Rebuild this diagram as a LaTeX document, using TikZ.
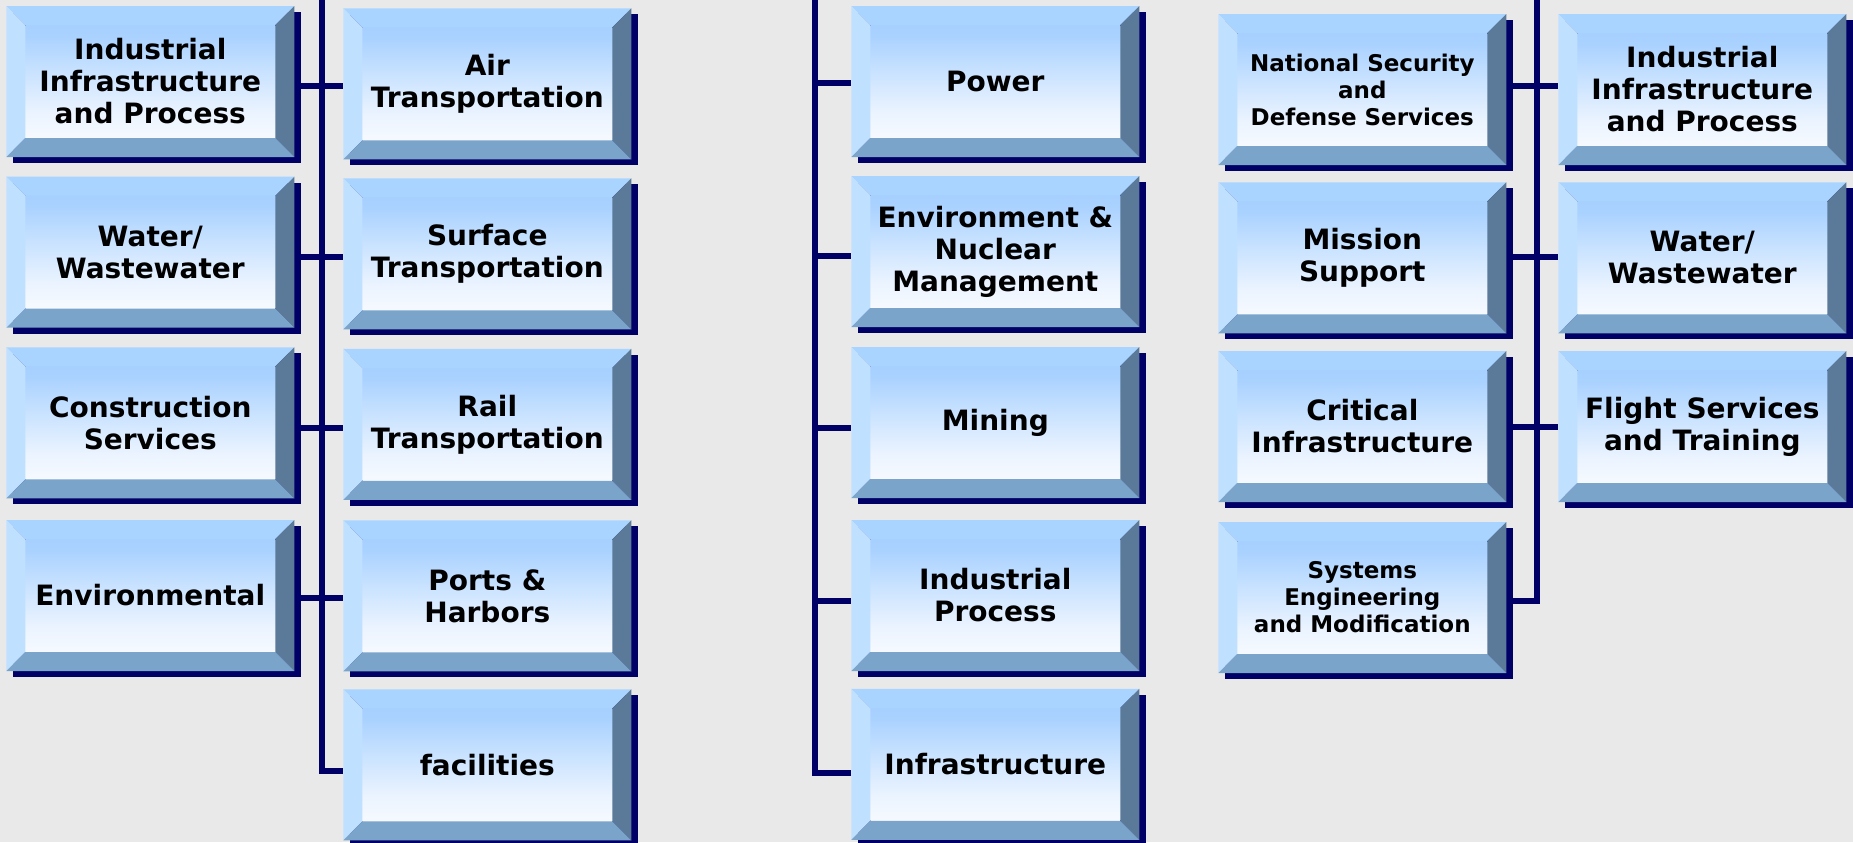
\documentclass[tikz,border=0pt]{standalone}
\usepackage{fontspec}
\setmainfont{DejaVu Sans}
\usetikzlibrary{shadows}
\pgfdeclarelayer{bglayer}
\pgfdeclarelayer{lines}
\pgfsetlayers{bglayer,lines,main}
\definecolor{bgc}{HTML}{E9E9E9}
\definecolor{navy}{HTML}{000066}
\definecolor{bevtop}{HTML}{A8D4FF}
\definecolor{bevleft}{HTML}{C0E0FF}
\definecolor{bevright}{HTML}{5B7A99}
\definecolor{bevbot}{HTML}{7BA4CB}
\definecolor{faceA}{HTML}{A0CCFF}
\definecolor{faceB}{HTML}{AAD2FF}
\definecolor{faceC}{HTML}{CCE4FF}
\definecolor{faceD}{HTML}{EAF3FF}
\definecolor{faceE}{HTML}{F8FBFF}
\pgfdeclareverticalshading{faceshade}{100bp}{color(0bp)=(faceE); color(25bp)=(faceE); color(30bp)=(faceE); color(40bp)=(faceD); color(52bp)=(faceC); color(65bp)=(faceB); color(75bp)=(faceA); color(100bp)=(faceA)}
\tikzset{
  bx/.style={anchor=north west, minimum width=144pt, minimum height=75.5pt,
    inner sep=0pt, outer sep=0pt, align=center,
    font=\bfseries\fontsize{14}{16}\selectfont,
    general shadow={shadow xshift=3.5pt, shadow yshift=-3pt, fill=navy},
    path picture={
      \def\bevw{9.5pt}
      \shade[shading=faceshade]
        ([xshift=\bevw,yshift=-\bevw]path picture bounding box.north west) rectangle
        ([xshift=-\bevw,yshift=\bevw]path picture bounding box.south east);
      \fill[bevtop] (path picture bounding box.north west) -- (path picture bounding box.north east)
        -- ([xshift=-\bevw,yshift=-\bevw]path picture bounding box.north east)
        -- ([xshift=\bevw,yshift=-\bevw]path picture bounding box.north west) -- cycle;
      \fill[bevleft] (path picture bounding box.north west)
        -- ([xshift=\bevw,yshift=-\bevw]path picture bounding box.north west)
        -- ([xshift=\bevw,yshift=\bevw]path picture bounding box.south west)
        -- (path picture bounding box.south west) -- cycle;
      \fill[bevright] (path picture bounding box.north east)
        -- (path picture bounding box.south east)
        -- ([xshift=-\bevw,yshift=\bevw]path picture bounding box.south east)
        -- ([xshift=-\bevw,yshift=-\bevw]path picture bounding box.north east) -- cycle;
      \fill[bevbot] (path picture bounding box.south west)
        -- ([xshift=\bevw,yshift=\bevw]path picture bounding box.south west)
        -- ([xshift=-\bevw,yshift=\bevw]path picture bounding box.south east)
        -- (path picture bounding box.south east) -- cycle;
    }},
  small/.style={font=\bfseries\fontsize{11.5}{13.5}\selectfont},
  conn/.style={draw=navy, line width=3pt, line join=miter},
}
\begin{document}
\begin{tikzpicture}[x=0.5pt,y=-0.5pt]
\useasboundingbox (0,0) rectangle (1853,842);
\begin{pgfonlayer}{bglayer}
\fill[bgc] (0,0) rectangle (1853,842);
\end{pgfonlayer}

% ---- left group
\node[bx] (L1) at (6.3,6) {Industrial\\Infrastructure\\and Process};
\node[bx] (L2) at (6.3,176.7) {Water/\\Wastewater};
\node[bx] (L3) at (6.3,347.3) {Construction\\Services};
\node[bx] (L4) at (6.3,520) {Environmental};
\node[bx] (R1) at (343.3,8.3) {Air\\Transportation};
\node[bx] (R2) at (343.3,178.3) {Surface\\Transportation};
\node[bx] (R3) at (343.3,348.8) {Rail\\Transportation};
\node[bx] (R4) at (343.3,520.3) {Ports \&\\Harbors};
\node[bx] (R5) at (343.3,689.3) {facilities};

% ---- middle group
\node[bx] (M1) at (851.3,6) {Power};
\node[bx] (M2) at (851.3,176) {Environment \&\\Nuclear\\Management};
\node[bx] (M3) at (851.3,347) {Mining};
\node[bx] (M4) at (851.3,520) {Industrial\\Process};
\node[bx] (M5) at (851.3,688.9) {Infrastructure};

% ---- right group
\node[bx,small] (S1) at (1218.3,14) {National Security\\and\\Defense Services};
\node[bx] (S2) at (1218.3,182.3) {Mission\\Support};
\node[bx] (S3) at (1218.3,351) {Critical\\Infrastructure};
\node[bx,small] (S4) at (1218.3,522) {Systems\\Engineering\\and Modification};
\node[bx] (T1) at (1558.3,14) {Industrial\\Infrastructure\\and Process};
\node[bx] (T2) at (1558.3,182.3) {Water/\\Wastewater};
\node[bx] (T3) at (1558.3,351) {Flight Services\\and Training};

\begin{pgfonlayer}{lines}
% left group trunk
\coordinate (aTop) at (322,-10);
\coordinate (a1) at (322,86.3);
\coordinate (a2) at (322,257);
\coordinate (a3) at (322,428);
\coordinate (a4) at (322,598.3);
\coordinate (a5) at (322,771);
\draw[conn] (aTop) -- (a5) -- (a5 -| R5.west);
\draw[conn] (a1 -| L1.east) -- (a1 -| R1.west);
\draw[conn] (a2 -| L2.east) -- (a2 -| R2.west);
\draw[conn] (a3 -| L3.east) -- (a3 -| R3.west);
\draw[conn] (a4 -| L4.east) -- (a4 -| R4.west);
% middle group trunk
\coordinate (bTop) at (815,-10);
\coordinate (b1) at (815,83);
\coordinate (b2) at (815,255.7);
\coordinate (b3) at (815,428);
\coordinate (b4) at (815,601);
\coordinate (b5) at (815,773);
\draw[conn] (bTop) -- (b5) -- (b5 -| M5.west);
\draw[conn] (b1) -- (b1 -| M1.west);
\draw[conn] (b2) -- (b2 -| M2.west);
\draw[conn] (b3) -- (b3 -| M3.west);
\draw[conn] (b4) -- (b4 -| M4.west);
% right group trunk
\coordinate (cTop) at (1537,-10);
\coordinate (c1) at (1537,86.3);
\coordinate (c2) at (1537,257);
\coordinate (c3) at (1537,427.3);
\coordinate (c4) at (1537,601);
\draw[conn] (cTop) -- (c4) -- (c4 -| S4.east);
\draw[conn] (c1 -| S1.east) -- (c1 -| T1.west);
\draw[conn] (c2 -| S2.east) -- (c2 -| T2.west);
\draw[conn] (c3 -| S3.east) -- (c3 -| T3.west);
\end{pgfonlayer}
\end{tikzpicture}
\end{document}
